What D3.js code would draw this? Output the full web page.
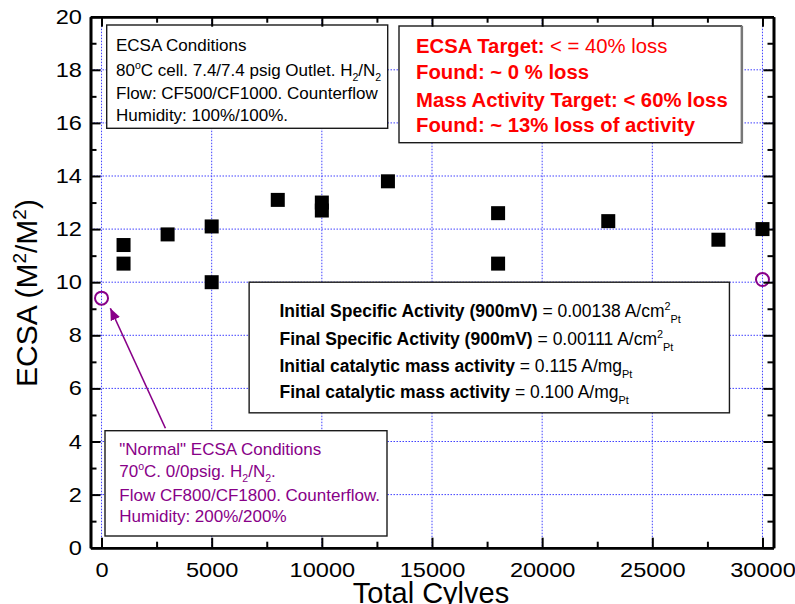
<!DOCTYPE html>
<html>
<head>
<meta charset="utf-8">
<script src="https://cdn.jsdelivr.net/npm/d3@7"></script>
<style>
  body { margin: 0; background: #fff; }
  svg { display: block; }
  text { font-family: "Liberation Sans", Arial, Helvetica, sans-serif; }
</style>
</head>
<body>
<svg id="chart" width="795" height="604"></svg>
<script>
// ECSA measured at each cycle count during the durability test
const cycles = [1000, 1000, 3000, 5000, 5000, 8000, 10000, 10000, 13000, 18000, 18000, 23000, 28000, 30000];
const ecsa   = [11.4, 10.7, 11.8, 12.1, 10.0, 13.1, 13.0, 12.7, 13.8, 12.6, 10.7, 12.3, 11.6, 12.0];

// ECSA measured under the "normal" conditions (start and end of test)
const normalCycles = [0, 30000];
const normalEcsa   = [9.4, 10.1];

// axis ticks
const xMajor = [0, 5000, 10000, 15000, 20000, 25000, 30000];
const xMinor = [2500, 7500, 12500, 17500, 22500, 27500];
const yMajor = [0, 2, 4, 6, 8, 10, 12, 14, 16, 18, 20];
const yMinor = [1, 3, 5, 7, 9, 11, 13, 15, 17, 19];
const xGrid = [0, 5000, 10000, 15000, 20000, 25000, 30000];
const yGrid = [2, 4, 6, 8, 10, 12, 14, 16, 18];

// annotation text, one array of runs per line
const conditionsLines = [
  [{t: "ECSA Conditions"}],
  [{t: "80"}, {t: "o", sup: true}, {t: "C cell. 7.4/7.4 psig Outlet. H"}, {t: "2", sub: true}, {t: "/N"}, {t: "2", sub: true}],
  [{t: "Flow: CF500/CF1000. Counterflow"}],
  [{t: "Humidity: 100%/100%."}]
];
const targetLines = [
  [{t: "ECSA Target:", b: true}, {t: " < = 40% loss"}],
  [{t: "Found: ~ 0 % loss", b: true}],
  [{t: "Mass Activity Target: < 60% loss", b: true}],
  [{t: "Found: ~ 13% loss of activity", b: true}]
];
const activityLines = [
  [{t: "Initial Specific Activity (900mV)", b: true}, {t: " = 0.00138 A/cm"}, {t: "2", sup: true}, {t: "Pt", sub: true}],
  [{t: "Final Specific Activity (900mV)", b: true}, {t: " = 0.00111 A/cm"}, {t: "2", sup: true}, {t: "Pt", sub: true}],
  [{t: "Initial catalytic mass activity", b: true}, {t: " = 0.115 A/mg"}, {t: "Pt", sub: true}],
  [{t: "Final catalytic mass activity", b: true}, {t: " = 0.100 A/mg"}, {t: "Pt", sub: true}]
];
const normalLines = [
  [{t: "\"Normal\" ECSA Conditions"}],
  [{t: "70"}, {t: "o", sup: true}, {t: "C. 0/0psig. H"}, {t: "2", sub: true}, {t: "/N"}, {t: "2", sub: true}, {t: "."}],
  [{t: "Flow CF800/CF1800. Counterflow."}],
  [{t: "Humidity: 200%/200%"}]
];

const svg = d3.select("#chart");
const frame = {left: 90.5, right: 773.5, top: 16.7, bottom: 547.7};

const x = d3.scaleLinear().domain([-500, 30500]).range([frame.left, frame.right]);
const y = d3.scaleLinear().domain([0, 20]).range([frame.bottom, frame.top]);

const PURPLE = "#880088";
const RED = "#ff0000";

// dotted grid
const grid = svg.append("g").attr("stroke", "#2020ff").attr("stroke-width", 1)
  .attr("stroke-dasharray", "1.5,1.5").attr("opacity", 0.85);
grid.selectAll("line.gx").data(xGrid).join("line").attr("class", "gx")
  .attr("x1", d => x(d)).attr("x2", d => x(d)).attr("y1", frame.top).attr("y2", frame.bottom);
grid.selectAll("line.gy").data(yGrid).join("line").attr("class", "gy")
  .attr("y1", d => y(d)).attr("y2", d => y(d)).attr("x1", frame.left).attr("x2", frame.right);

// rich text line writer (bold runs, super/subscripts)
function richLine(g, px, py, runs, size, color) {
  const t = g.append("text").attr("x", px).attr("y", py).attr("font-size", size).attr("fill", color);
  let off = 0;
  runs.forEach(r => {
    const target = r.sup ? -0.42 * size : r.sub ? 0.32 * size : 0;
    const ts = t.append("tspan").attr("dy", target - off).text(r.t);
    off = target;
    if (r.sup || r.sub) ts.attr("font-size", size * 0.62);
    if (r.b) ts.attr("font-weight", "bold");
  });
  return t;
}

function textBox(box, lines, baselines, size, color) {
  const g = svg.append("g");
  g.append("rect").attr("x", box.x0).attr("y", box.y0)
    .attr("width", box.x1 - box.x0).attr("height", box.y1 - box.y0)
    .attr("fill", "#fff").attr("stroke", "#1a1a1a").attr("stroke-width", 1.4);
  lines.forEach((ln, i) => richLine(g, box.tx, baselines[i], ln, size, color));
  return g;
}

textBox({x0: 106.7, y0: 25, x1: 387.7, y1: 128.3, tx: 116},
  conditionsLines, [51, 76, 98.5, 120.5], 17, "#000");

const tBox = textBox({x0: 399, y0: 26, x1: 741.5, y1: 142.7, tx: 416},
  targetLines, [53.3, 79, 106.5, 131.5], 20.3, RED);
tBox.append("line").attr("x1", 742).attr("x2", 742).attr("y1", 26).attr("y2", 143.5)
  .attr("stroke", "#777").attr("stroke-width", 2.2);

textBox({x0: x(6700), y0: y(10), x1: x(28500), y1: y(5.08), tx: 279.5},
  activityLines, [317, 345, 372, 398], 17.5, "#000");

textBox({x0: 105, y0: 430.7, x1: 387, y1: 536, tx: 119.3},
  normalLines, [455, 477, 501, 522], 17, PURPLE);

// arrow from the "normal" box to the first reference point
const defs = svg.append("defs");
defs.append("marker").attr("id", "arrowhead").attr("markerUnits", "userSpaceOnUse")
  .attr("viewBox", "0 0 12 10").attr("refX", 12).attr("refY", 5)
  .attr("markerWidth", 12).attr("markerHeight", 10).attr("orient", "auto")
  .append("path").attr("d", "M0,0 L12,5 L0,10 Z").attr("fill", PURPLE);
svg.append("line")
  .attr("x1", x(2900)).attr("y1", y(4.5))
  .attr("x2", x(400)).attr("y2", y(9.02))
  .attr("stroke", PURPLE).attr("stroke-width", 1.6)
  .attr("marker-end", "url(#arrowhead)");

// measured points
svg.append("g").selectAll("rect").data(cycles.map((c, i) => [c, ecsa[i]])).join("rect")
  .attr("x", d => x(d[0]) - 7).attr("y", d => y(d[1]) - 7)
  .attr("width", 14).attr("height", 14).attr("fill", "#000");

// reference points
svg.append("g").selectAll("circle").data(normalCycles.map((c, i) => [c, normalEcsa[i]])).join("circle")
  .attr("cx", d => x(d[0])).attr("cy", d => y(d[1])).attr("r", 6.5)
  .attr("fill", "none").attr("stroke", PURPLE).attr("stroke-width", 2);

// axes: ticks point inward on all four sides; labels are slightly widened
function styleAxis(g) {
  g.attr("font-family", null).attr("font-size", null);
  g.select(".domain").attr("stroke", "#000").attr("stroke-width", 2.6);
  g.selectAll(".tick line").attr("stroke", "#000").attr("stroke-width", 2);
  g.selectAll(".tick text").attr("font-size", 20.5).attr("fill", "#000");
}
const noLabel = () => "";

svg.append("g").attr("transform", `translate(0,${frame.bottom})`)
  .call(d3.axisBottom(x).tickValues(xMinor).tickSize(-6).tickSizeOuter(0).tickFormat(noLabel)).call(styleAxis);
svg.append("g").attr("transform", `translate(0,${frame.bottom})`)
  .call(d3.axisBottom(x).tickValues(xMajor).tickSize(-10).tickSizeOuter(0).tickPadding(15).tickFormat(d3.format("d")))
  .call(styleAxis)
  .call(g => g.selectAll(".tick text").attr("transform", "scale(1.15,1)"));

svg.append("g").attr("transform", `translate(0,${frame.top})`)
  .call(d3.axisTop(x).tickValues(xMinor).tickSize(-6).tickSizeOuter(0).tickFormat(noLabel)).call(styleAxis);
svg.append("g").attr("transform", `translate(0,${frame.top})`)
  .call(d3.axisTop(x).tickValues(xMajor).tickSize(-10).tickSizeOuter(0).tickFormat(noLabel)).call(styleAxis);

svg.append("g").attr("transform", `translate(${frame.left},0)`)
  .call(d3.axisLeft(y).tickValues(yMinor).tickSize(-6).tickSizeOuter(0).tickFormat(noLabel)).call(styleAxis);
svg.append("g").attr("transform", `translate(${frame.left},0)`)
  .call(d3.axisLeft(y).tickValues(yMajor).tickSize(-10).tickSizeOuter(0).tickPadding(8).tickFormat(d3.format("d")))
  .call(styleAxis)
  .call(g => g.selectAll(".tick text").attr("x", -7.5).attr("transform", "scale(1.15,1)"));

svg.append("g").attr("transform", `translate(${frame.right},0)`)
  .call(d3.axisRight(y).tickValues(yMinor).tickSize(-6).tickSizeOuter(0).tickFormat(noLabel)).call(styleAxis);
svg.append("g").attr("transform", `translate(${frame.right},0)`)
  .call(d3.axisRight(y).tickValues(yMajor).tickSize(-10).tickSizeOuter(0).tickFormat(noLabel)).call(styleAxis);

// axis titles
svg.append("text").attr("x", 431).attr("y", 603).attr("text-anchor", "middle")
  .attr("font-size", 29).attr("fill", "#000").text("Total Cylves");

const yTitle = svg.append("text").attr("transform", "translate(37,293) rotate(-90)")
  .attr("text-anchor", "middle").attr("font-size", 30).attr("fill", "#000");
yTitle.append("tspan").text("ECSA (M");
yTitle.append("tspan").attr("dy", -11).attr("font-size", 19).text("2");
yTitle.append("tspan").attr("dy", 11).text("/M");
yTitle.append("tspan").attr("dy", -11).attr("font-size", 19).text("2");
yTitle.append("tspan").attr("dy", 11).text(")");
</script>
</body>
</html>
